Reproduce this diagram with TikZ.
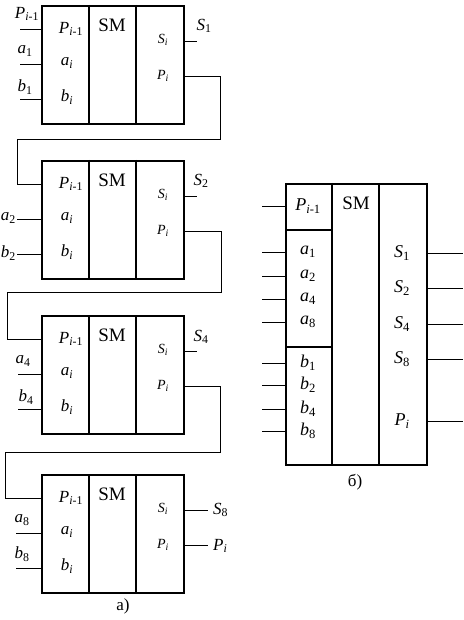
\documentclass[tikz,border=0pt]{standalone}
\usepackage{fontspec}
\setmainfont{Liberation Serif}
\usetikzlibrary{calc}
\newcommand{\vr}[2]{\textit{#1}\textsubscript{#2}}

\begin{document}
\begin{tikzpicture}[x=1pt, y=-1pt,
  every node/.style={inner sep=0pt},
  edge/.style={line width=1.6pt},
  wire/.style={line width=0.9pt},
  blk/.style={edge, draw, rectangle, anchor=north west, minimum width=142pt, minimum height=118pt},
  lbl/.style={font=\fontsize{17}{18}\selectfont},
  smlbl/.style={font=\fontsize{14}{15}\selectfont},
  smname/.style={font=\fontsize{19}{20}\selectfont},
  rlbl/.style={font=\fontsize{18}{19}\selectfont}]
\useasboundingbox (0,0) rectangle (463,620);
% Draw the four adders
\foreach \k/\t in {1/5,2/160,3/315,4/474} {
  \node[blk] (b\k) at (41,\t) {};
  \draw[edge] ($(b\k.north west)+(48,0)$) -- ($(b\k.south west)+(48,0)$);
  \draw[edge] ($(b\k.north west)+(95,0)$) -- ($(b\k.south west)+(95,0)$);
  \coordinate (pin\k) at ($(b\k.north west)+(0,24)$);
  \coordinate (ain\k) at ($(b\k.north west)+(0,59)$);
  \coordinate (bin\k) at ($(b\k.north west)+(0,94)$);
  \coordinate (sout\k) at ($(b\k.north east)+(0,36)$);
  \coordinate (pout\k) at ($(b\k.north east)+(0,71)$);
  \node[lbl] (ip\k) at (71,\t+24) {\vr{P}{\textit{i}-1}};
  \node[lbl] (ia\k) at (67,\t+58) {\vr{a}{\textit{i}}};
  \node[lbl] (ib\k) at (67,\t+92) {\vr{b}{\textit{i}}};
  \node[smname] (sm\k) at (112,\t+20) {SM};
  \node[smlbl] (is\k) at (163,\t+35) {\vr{S}{\textit{i}}};
  \node[smlbl] (ipo\k) at (163,\t+71) {\vr{P}{\textit{i}}};
}
% Draw inputs and outputs
\coordinate (p0) at (20,29);
\coordinate (a1) at (20,64);
\coordinate (b1) at (20,99);
\draw[wire] (p0) -- (pin1);
\draw[wire] (a1) -- (ain1);
\draw[wire] (b1) -- (bin1);
\node[lbl] (lp0) at (27,14) {\vr{P}{\textit{i}-1}};
\node[lbl] (la1) at (25,51) {\vr{a}{1}};
\node[lbl] (lb1) at (25,87) {\vr{b}{1}};
\coordinate (a2) at (17,219);
\coordinate (b2) at (17,254);
\draw[wire] (a2) -- (ain2);
\draw[wire] (b2) -- (bin2);
\node[lbl, anchor=east] (la2) at (16,218) {\vr{a}{2}};
\node[lbl, anchor=east] (lb2) at (16,253) {\vr{b}{2}};
\coordinate (a4) at (18,374);
\coordinate (b4) at (18,409);
\draw[wire] (a4) -- (ain3);
\draw[wire] (b4) -- (bin3);
\node[lbl] (la4) at (23,361) {\vr{a}{4}};
\node[lbl] (lb4) at (26,397) {\vr{b}{4}};
\coordinate (a8) at (16,533);
\coordinate (b8) at (16,568);
\draw[wire] (a8) -- (ain4);
\draw[wire] (b8) -- (bin4);
\node[lbl] (la8) at (22,520) {\vr{a}{8}};
\node[lbl] (lb8) at (22,554) {\vr{b}{8}};
\coordinate (s1) at ($(sout1)+(12,0)$);
\coordinate (s2) at ($(sout2)+(12,0)$);
\coordinate (s4) at ($(sout3)+(12,0)$);
\coordinate (s8) at ($(sout4)+(23,0)$);
\coordinate (pi) at ($(pout4)+(23,0)$);
\draw[wire] (sout1) -- (s1);
\draw[wire] (sout2) -- (s2);
\draw[wire] (sout3) -- (s4);
\draw[wire] (sout4) -- (s8);
\draw[wire] (pout4) -- (pi);
\node[lbl] (ls1) at (204,26) {\vr{S}{1}};
\node[lbl] (ls2) at (201,181) {\vr{S}{2}};
\node[lbl] (ls4) at (201,337) {\vr{S}{4}};
\node[lbl, anchor=west] (ls8) at (213,510) {\vr{S}{8}};
\node[lbl, anchor=west] (lpi) at (213,546) {\vr{P}{\textit{i}}};
% Draw carry chain
\draw[wire] (pout1) -| (220,139) -| (17,184) -- (pin2);
\draw[wire] (pout2) -| (221,292) -| (7,339) -- (pin3);
\draw[wire] (pout3) -| (220,452) -| (5,498) -- (pin4);
\node[lbl] (capa) at (123,606) {a)};
% Draw the combined adder
\node[edge, draw, rectangle, anchor=north west, minimum width=141pt, minimum height=281pt] (sum) at (285,183) {};
\draw[edge] ($(sum.north west)+(47,0)$) -- ($(sum.south west)+(47,0)$);
\draw[edge] ($(sum.north west)+(94,0)$) -- ($(sum.south west)+(94,0)$);
\draw[edge] ($(sum.north west)+(0,47)$) -- ($(sum.north west)+(47,47)$);
\draw[edge] ($(sum.north west)+(0,164)$) -- ($(sum.north west)+(47,164)$);
\node[smname] (smr) at (356,203) {SM};
\foreach \n/\y/\txt in {p/206/{\vr{P}{\textit{i}-1}}, a1/252/{\vr{a}{1}}, a2/276/{\vr{a}{2}},
    a4/299/{\vr{a}{4}}, a8/322/{\vr{a}{8}}, b1/363/{\vr{b}{1}}, b2/385/{\vr{b}{2}},
    b4/409/{\vr{b}{4}}, b8/431/{\vr{b}{8}}} {
  \node[rlbl] (r\n) at (308,\y) {\txt};
  \coordinate (rin\n) at (285,\y);
  \draw[wire] ($(rin\n)+(-23,0)$) -- (rin\n);
}
\foreach \n/\y/\txt in {s1/253/{\vr{S}{1}}, s2/288/{\vr{S}{2}}, s4/324/{\vr{S}{4}},
    s8/359/{\vr{S}{8}}, pi/421/{\vr{P}{\textit{i}}}} {
  \node[rlbl] (r\n) at (402,\y) {\txt};
  \coordinate (rout\n) at (426,\y);
  \draw[wire] (rout\n) -- (463,\y);
}
\node[lbl] (capb) at (355,482) {б)};
\end{tikzpicture}
\end{document}
